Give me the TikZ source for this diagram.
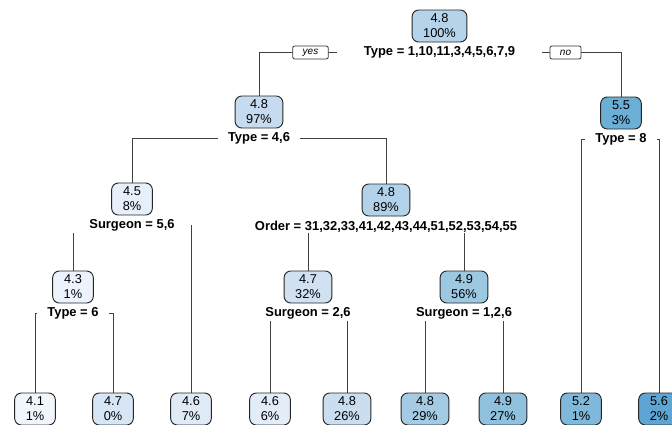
\documentclass[tikz,border=0pt]{standalone}
\usepackage{fontspec}
\setmainfont{Liberation Sans}
\usetikzlibrary{positioning}
\usetikzlibrary{backgrounds}

\definecolor{vroot}{HTML}{B5D4EA}
\definecolor{vA}{HTML}{C6DBEF}
\definecolor{vB}{HTML}{6BAED6}
\definecolor{vC}{HTML}{E6EFFA}
\definecolor{vD}{HTML}{B2D2E9}
\definecolor{vE}{HTML}{ECF3FC}
\definecolor{vF}{HTML}{D0E2F2}
\definecolor{vG}{HTML}{9DC8E2}
\definecolor{leafa}{HTML}{F1F6FD}
\definecolor{leafb}{HTML}{D7E6F5}
\definecolor{leafc}{HTML}{DFEAF7}
\definecolor{leafd}{HTML}{E3EDF9}
\definecolor{leafe}{HTML}{CADEF0}
\definecolor{leaff}{HTML}{A5CBE4}
\definecolor{leafg}{HTML}{8FC0DE}
\definecolor{leafh}{HTML}{80B8DB}
\definecolor{leafi}{HTML}{5FA5D3}

\begin{document}
\begin{tikzpicture}[x=0.75pt,y=-0.75pt,
  box/.style={rectangle,rounded corners=5pt,draw=black!85,line width=0.7pt,align=center,
    inner xsep=8.3pt,inner ysep=1pt,minimum height=24pt,font=\fontsize{9.6}{11.2}\selectfont},
  split/.style={rectangle,fill=white,font=\bfseries\fontsize{9.7}{11}\selectfont,inner xsep=7.5pt,inner ysep=1pt},
  tag/.style={rectangle,draw=black!80,fill=white,rounded corners=1.5pt,line width=0.6pt,
    font=\itshape\fontsize{7.5}{8}\selectfont,inner xsep=7.5pt,inner ysep=1pt,minimum height=9.75pt},
  branch/.style={draw=black!75,line width=0.75pt}]
\useasboundingbox (0,0) rectangle (672,425);

% inner nodes
\node[box,fill=vroot] (n1) at (439.5,26) {4.8\\100\%};
\node[split,inner xsep=20pt,below=2pt of n1] (s1) {Type = 1,10,11,3,4,5,6,7,9};
\node[tag] (yes) at (310.5,52.5) {yes};
\node[tag] (no) at (565.5,52.5) {no};

\node[box,fill=vA] (n2) at (259,112) {4.8\\97\%};
\node[split,below=2pt of n2] (s2) {Type = 4,6};
\node[box,fill=vB] (n3) at (621,113) {5.5\\3\%};
\node[split,below=2pt of n3] (s3) {Type = 8};

\node[box,fill=vC] (n4) at (132,199) {4.5\\8\%};
\node[split,inner xsep=12.5pt,below=2pt of n4] (s4) {Surgeon = 5,6};
\node[box,fill=vD] (n5) at (386,200) {4.8\\89\%};
\node[split,below=2pt of n5] (s5) {Order = 31,32,33,41,42,43,44,51,52,53,54,55};

\node[box,fill=vE] (n8) at (73,287) {4.3\\1\%};
\node[split,below=2pt of n8] (s8) {Type = 6};
\node[box,fill=vF] (n10) at (308,287) {4.7\\32\%};
\node[split,below=2pt of n10] (s10) {Surgeon = 2,6};
\node[box,fill=vG] (n11) at (464,287) {4.9\\56\%};
\node[split,below=2pt of n11] (s11) {Surgeon = 1,2,6};

% leaves
\node[box,fill=leafa] (l1) at (35,409) {4.1\\1\%};
\node[box,fill=leafb] (l2) at (113,409) {4.7\\0\%};
\node[box,fill=leafc] (l3) at (191,409) {4.6\\7\%};
\node[box,fill=leafd] (l4) at (270,409) {4.6\\6\%};
\node[box,fill=leafe] (l5) at (347,409) {4.8\\26\%};
\node[box,fill=leaff] (l6) at (425,409) {4.8\\29\%};
\node[box,fill=leafg] (l7) at (503,409) {4.9\\27\%};
\node[box,fill=leafh] (l8) at (581,409) {5.2\\1\%};
\node[box,fill=leafi] (l9) at (659,409) {5.6\\2\%};

\begin{scope}[on background layer]
\draw[branch] (s1.center) -| (n2);
\draw[branch] (s1.center) -| (n3);
\draw[branch] (s2.center) -| (n4);
\draw[branch] (s2.center) -| (n5);
\draw[branch] (s3.center) -| (l8);
\draw[branch] (s3.center) -| (l9);
\draw[branch] (s4.center) -| (n8);
\draw[branch] (s4.center) -| (l3);
\draw[branch] (s5.center) -| (n10);
\draw[branch] (s5.center) -| (n11);
\draw[branch] (s8.center) -| (l1);
\draw[branch] (s8.center) -| (l2);
\draw[branch] (s10.center) -| (l4);
\draw[branch] (s10.center) -| (l5);
\draw[branch] (s11.center) -| (l6);
\draw[branch] (s11.center) -| (l7);
\end{scope}
\end{tikzpicture}
\end{document}
